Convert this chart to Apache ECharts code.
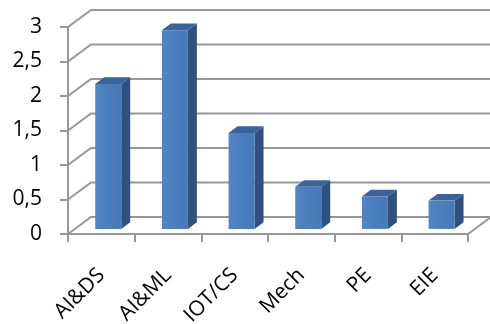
<!DOCTYPE html>
<html>
<head>
<meta charset="utf-8">
<script src="https://cdn.jsdelivr.net/npm/echarts@6/dist/echarts.min.js"></script>
<style>
  html, body { margin: 0; padding: 0; background: #fff; }
  #chart { width: 490px; height: 324px; }
</style>
</head>
<body>
<div id="chart"></div>
<script>
// Departments and their values
const categories = ['AI&DS', 'AI&ML', 'IOT/CS', 'Mech', 'PE', 'EIE'];
const values = [2.1, 2.88, 1.39, 0.61, 0.47, 0.41];
// Value-axis ticks (also used for the back-wall grid lines)
const yTicks = [0, 0.5, 1, 1.5, 2, 2.5, 3];

// 3D look: depth vector of the floor / side wall, in pixels
const DEPTH = [23, -17];
const BAR_FRONT = 0.30;   // depth fraction of the column's front face
const BAR_BACK = 0.69;    // depth fraction of the column's back face
const BAR_WIDTH = 0.39;   // column width as a share of the category band
const GRID_COLOR = '#979797';

const chart = echarts.init(document.getElementById('chart'), null, { renderer: 'canvas' });

// Back wall grid lines plus the diagonals on the left wall / floor
function renderGrid(params, api) {
  const v = api.value(0);
  const band = api.size([1, 0])[0];
  const p0 = api.coord([0, v]);
  const pEnd = api.coord([categories.length - 1, v]);
  const xL = p0[0] - band / 2;
  const xR = pEnd[0] + band / 2;
  const y = p0[1];
  const children = [
    { type: 'polyline', shape: { points: [[xL, y], [xL + DEPTH[0], y + DEPTH[1]], [xR + DEPTH[0], y + DEPTH[1]]] },
      style: { stroke: GRID_COLOR, lineWidth: 2, fill: null } }
  ];
  if (v === 0) {
    // right edge of the floor
    children.push({ type: 'line', shape: { x1: xR, y1: y, x2: xR + DEPTH[0], y2: y + DEPTH[1] },
      style: { stroke: GRID_COLOR, lineWidth: 2 } });
  }
  return { type: 'group', children };
}

// Columns drawn as boxes: front, side and top faces
function renderBar(params, api) {
  const idx = api.value(0);
  const v = api.value(1);
  const top = api.coord([idx, v]);
  const base = api.coord([idx, 0]);
  const band = api.size([1, 0])[0];
  const w = band * BAR_WIDTH;
  const fx = BAR_FRONT * DEPTH[0], fy = BAR_FRONT * DEPTH[1];
  const bx = BAR_BACK * DEPTH[0], by = BAR_BACK * DEPTH[1];
  const x0 = top[0] - w / 2, x1 = top[0] + w / 2;
  const yT = top[1], yB = base[1];
  return {
    type: 'group',
    children: [
      { type: 'polygon', shape: { points: [[x1 + fx, yT + fy], [x1 + bx, yT + by], [x1 + bx, yB + by], [x1 + fx, yB + fy]] },
        style: { fill: '#30517f' } },
      { type: 'polygon', shape: { points: [[x0 + fx, yT + fy], [x0 + bx, yT + by], [x1 + bx, yT + by], [x1 + fx, yT + fy]] },
        style: { fill: '#3a6399' } },
      { type: 'rect', shape: { x: x0 + fx, y: yT + fy, width: w, height: yB - yT },
        style: { fill: new echarts.graphic.LinearGradient(0, 0, 1, 0, [
          { offset: 0, color: '#5187c6' }, { offset: 0.5, color: '#4a7ebd' }, { offset: 1, color: '#4679b7' }]) } }
    ]
  };
}

const labelFont = '"Open Sans", "DejaVu Sans", sans-serif';

chart.setOption({
  animation: false,
  backgroundColor: '#ffffff',
  grid: { left: 68, right: 22, top: 27, bottom: 90, containLabel: false, outerBoundsMode: 'none' },
  xAxis: {
    type: 'category',
    data: categories,
    boundaryGap: true,
    axisLine: { show: true, lineStyle: { color: GRID_COLOR, width: 2 } },
    axisTick: { show: true, length: 8, lineStyle: { color: GRID_COLOR, width: 2 } },
    axisLabel: { rotate: 45, margin: 38, fontSize: 21, color: '#000', fontFamily: labelFont },
    splitLine: { show: false }
  },
  yAxis: {
    type: 'value',
    min: 0, max: 3, interval: 0.5,
    axisLine: { show: true, lineStyle: { color: GRID_COLOR, width: 2 } },
    axisTick: { show: true, length: 8, lineStyle: { color: GRID_COLOR, width: 2 } },
    axisLabel: { margin: 26, fontSize: 21, color: '#000', fontFamily: labelFont,
      formatter: v => String(v).replace('.', ',') },
    splitLine: { show: false }
  },
  series: [
    { type: 'custom', name: 'grid', data: yTicks.map(v => [v]), renderItem: renderGrid,
      clip: false, silent: true, z: 1,
      encode: { y: 0 } },
    { type: 'custom', name: 'values', data: values.map((v, i) => [i, v]), renderItem: renderBar,
      clip: false, z: 3,
      encode: { x: 0, y: 1 } }
  ]
});
</script>
</body>
</html>
